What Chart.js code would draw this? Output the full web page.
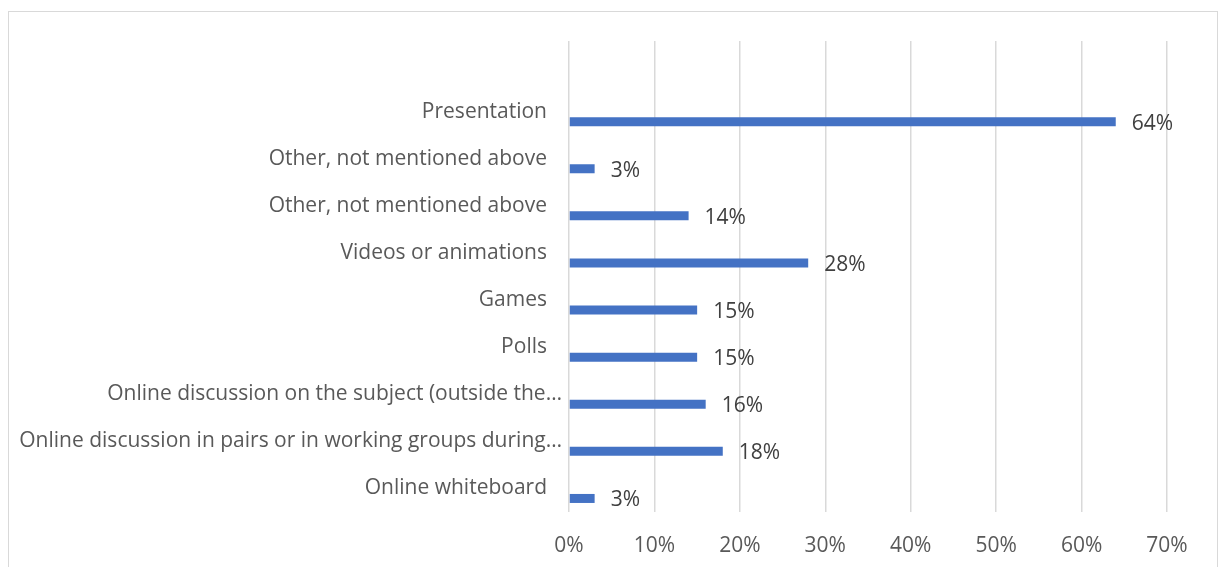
<!DOCTYPE html>
<html>
<head>
<meta charset="utf-8">
<script src="https://cdn.jsdelivr.net/npm/chart.js@4/dist/chart.umd.min.js"></script>
<style>
  html, body { margin: 0; padding: 0; background: #ffffff; overflow: hidden; }
  #wrap { position: absolute; left: 0; top: 0; width: 1223px; height: 567px; }
  #frame { position: absolute; left: 8px; top: 11px; width: 1210px; height: 620px;
           border: 1.5px solid #d9d9d9; box-sizing: border-box; }
  canvas { position: absolute; left: 0; top: 0; }
</style>
</head>
<body>
<div id="wrap">
  <div id="frame"></div>
  <canvas id="c" width="1223" height="567"></canvas>
</div>
<script>
// Survey answers: share of respondents naming each online teaching format
const categories = [
  "",
  "Presentation",
  "Other, not mentioned above",
  "Other, not mentioned above",
  "Videos or animations",
  "Games",
  "Polls",
  "Online discussion on the subject (outside the…",
  "Online discussion in pairs or in working groups during…",
  "Online whiteboard"
];
const shares = [null, 64, 3, 14, 28, 15, 15, 16, 18, 3];
const placeholder = [null, null, null, null, null, null, null, null, null, null];
const xTicks = [0, 10, 20, 30, 40, 50, 60, 70];

const FONT = "'Open Sans', 'Noto Sans', sans-serif";
const SIZE = 21;

// category names at the left; shortened names run a little closer to the axis
const categoryLabels = {
  id: 'categoryLabels',
  afterDraw(chart) {
    const ctx = chart.ctx;
    const y = chart.scales.y;
    const left = chart.chartArea.left;
    ctx.save();
    ctx.font = SIZE + "px " + FONT;
    ctx.fillStyle = "#595959";
    ctx.textAlign = "right";
    ctx.textBaseline = "middle";
    categories.forEach((name, i) => {
      if (!name) return;
      const gap = name.endsWith("…") ? 7 : 22;
      ctx.fillText(name, left - gap, y.getPixelForValue(i));
    });
    ctx.restore();
  }
};

// value labels drawn just past the end of each bar
const valueLabels = {
  id: 'valueLabels',
  afterDatasetsDraw(chart) {
    const ctx = chart.ctx;
    const meta = chart.getDatasetMeta(1);
    ctx.save();
    ctx.font = SIZE + "px " + FONT;
    ctx.fillStyle = "#404040";
    ctx.textAlign = "left";
    ctx.textBaseline = "middle";
    meta.data.forEach((bar, i) => {
      const v = shares[i];
      if (v === null || v === undefined) return;
      ctx.fillText(v + "%", bar.x + 16, bar.y + 2);
    });
    ctx.restore();
  }
};

new Chart(document.getElementById('c'), {
  type: 'bar',
  data: {
    labels: categories,
    datasets: [
      { label: '', data: placeholder, backgroundColor: '#ED7D31' },
      { label: 'Share', data: shares, backgroundColor: '#4472C4' }
    ]
  },
  options: {
    indexAxis: 'y',
    responsive: false,
    animation: false,
    categoryPercentage: 0.85,
    barPercentage: 0.45,
    layout: { padding: { left: 0, top: 41, right: 56, bottom: 0 } },
    plugins: {
      legend: { display: false },
      tooltip: { enabled: false }
    },
    scales: {
      x: {
        min: 0,
        max: 70,
        afterBuildTicks(scale) { scale.ticks = xTicks.map(v => ({ value: v })); },
        afterFit(scale) { scale.height = 55; },
        border: { display: false },
        grid: { color: '#d9d9d9', lineWidth: 1.5, drawTicks: false },
        ticks: {
          padding: 21,
          color: '#595959',
          font: { family: FONT, size: SIZE },
          callback: v => v + '%'
        }
      },
      y: {
        afterFit(scale) { scale.width = 569; },
        border: { display: false },
        grid: { display: false, drawTicks: false },
        ticks: { display: false, autoSkip: false }
      }
    }
  },
  plugins: [valueLabels, categoryLabels]
});
</script>
</body>
</html>
